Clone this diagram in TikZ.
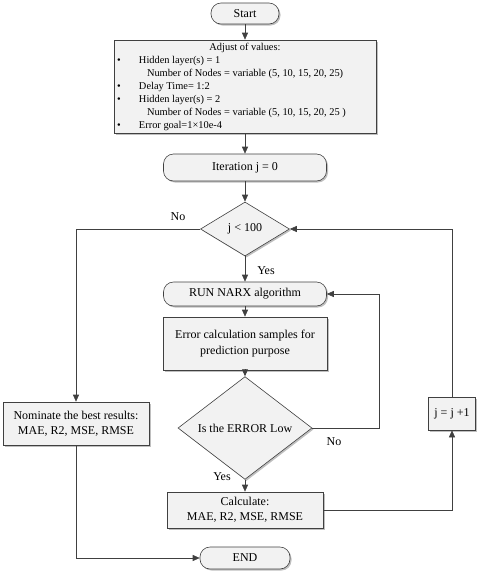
\documentclass[tikz,border=0pt]{standalone}
\usepackage{fontspec}
\setmainfont{Liberation Serif}
\usepackage{tikz}
\usetikzlibrary{arrows.meta, positioning, shapes.geometric, shadows}
\definecolor{linegray}{HTML}{404040}
\definecolor{boxfill}{HTML}{F2F2F2}

\begin{document}
\begin{tikzpicture}[x=1pt, y=-1pt,
    box/.style={rectangle, draw=linegray, fill=boxfill, line width=0.6pt, drop shadow={shadow xshift=1.5pt, shadow yshift=-1.5pt, fill=black, opacity=0.25}, inner sep=2pt, font=\fontsize{12}{16}\selectfont, align=center},
    term/.style={box, rounded corners=10pt},
    dec/.style={box, diamond, inner sep=0pt},
    arr/.style={-{Triangle[length=7pt,width=6pt]}, draw=linegray, line width=0.6pt},
    lbl/.style={font=\fontsize{12}{14}\selectfont}]
    \useasboundingbox (0,0) rectangle (485,574);
    \node[term, minimum width=68pt, minimum height=21pt] (start) at (245,13.5) {Start};
    \node[box, minimum width=262pt, minimum height=93pt, inner sep=1pt, font=\fontsize{10.4}{13}\selectfont] (adj) at (245,86.5) {%
      \begin{tabular}{@{}p{22pt}@{}l@{}}
      \multicolumn{2}{@{}l@{}}{\makebox[256pt]{Adjust of values:}}\\
      \textbullet & Hidden layer(s) = 1\\
      & \hspace{8pt}Number of Nodes = variable (5, 10, 15, 20, 25)\\
      \textbullet & Delay Time= 1:2\\
      \textbullet & Hidden layer(s) = 2\\
      & \hspace{8pt}Number of Nodes = variable (5, 10, 15, 20, 25 )\\
      \textbullet & Error goal=1×10e-4
      \end{tabular}};
    \node[term, minimum width=163pt, minimum height=27pt] (iter) at (245,167.5) {Iteration j = 0};
    \node[dec, minimum width=89pt, minimum height=54pt] (c1) at (245,229) {j < 100};
    \node[term, minimum width=163pt, minimum height=24pt] (run) at (245,294) {RUN NARX algorithm};
    \node[box, minimum width=164pt, minimum height=53pt] (err) at (245,343.5) {Error calculation samples for\\prediction purpose};
    \node[dec, minimum width=134pt, minimum height=78pt] (c2) at (245,428) {Is the ERROR Low};
    \node[box, minimum width=156pt, minimum height=36pt, font=\fontsize{12}{15}\selectfont] (calc) at (245,510) {Calculate:\\MAE, R2, MSE, RMSE};
    \node[term, minimum width=90pt, minimum height=22pt] (endn) at (245,558) {END};
    \node[box, minimum width=146pt, minimum height=43pt, font=\fontsize{12}{15}\selectfont] (nom) at (76,423.5) {Nominate the best results:\\MAE, R2, MSE, RMSE};
    \node[box, minimum width=47pt, minimum height=33pt] (jinc) at (452,413.5) {j = j +1};
    \node[lbl] (no1) at (178,217) {No};
    \node[lbl] (yes1) at (266,271) {Yes};
    \node[lbl] (no2) at (334,442) {No};
    \node[lbl] (yes2) at (222,477) {Yes};
    \draw[arr] (start) -- (adj);
    \draw[arr] (adj) -- (iter);
    \draw[arr] (iter) -- (c1);
    \draw[arr] (c1) -- (run);
    \draw[arr] (run) -- (err);
    \draw[arr] (err) -- (c2);
    \draw[arr] (c2) -- (calc);
    \draw[arr] (c1.west) -| (nom.north);
    \draw[arr] (nom.south) |- (endn.west);
    \draw[arr] (c2.east) -- ++(67,0) |- (run.east);
    \draw[arr] (calc.east) -| (jinc.south);
    \draw[arr] (jinc.north) |- (c1.east);
\end{tikzpicture}
\end{document}
